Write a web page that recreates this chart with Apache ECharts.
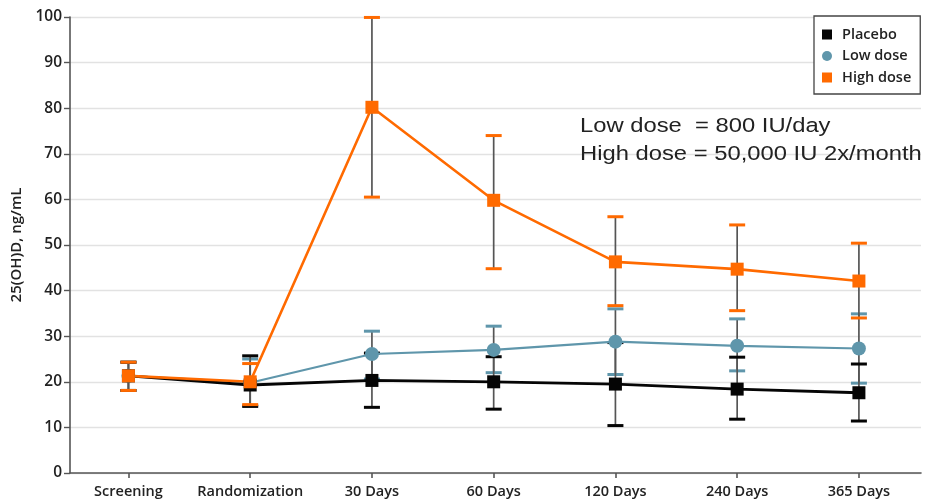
<!DOCTYPE html>
<html>
<head>
<meta charset="utf-8">
<script src="https://cdn.jsdelivr.net/npm/echarts@6/dist/echarts.min.js"></script>
<style>
  html, body { margin: 0; padding: 0; background: #fff; }
  #chart { width: 927px; height: 504px; }
</style>
</head>
<body>
<div id="chart"></div>
<script>
// Visit labels along the x axis
const categories = ['Screening', 'Randomization', '30 Days', '60 Days', '120 Days', '240 Days', '365 Days'];
const yTicks = [0, 10, 20, 30, 40, 50, 60, 70, 80, 90, 100];

// Placebo: mean and interval bounds (ng/mL)
const placeboMean = [21.3, 19.3, 20.3, 20.0, 19.5, 18.4, 17.6];
const placeboLow  = [18.1, 14.6, 14.4, 14.0, 10.4, 11.8, 11.4];
const placeboHigh = [24.3, 25.7, 26.3, 25.5, 28.6, 25.4, 23.9];

// Low dose (800 IU/day)
const lowMean = [21.3, 19.8, 26.1, 27.0, 28.8, 27.9, 27.3];
const lowLow  = [18.1, 14.8, 20.6, 22.0, 21.6, 22.4, 19.7];
const lowHigh = [24.3, 25.0, 31.1, 32.2, 36.0, 33.8, 34.9];

// High dose (50,000 IU twice a month)
const highMean = [21.3, 20.0, 80.2, 59.8, 46.3, 44.7, 42.1];
const highLow  = [18.1, 15.0, 60.5, 44.8, 36.7, 35.6, 34.0];
const highHigh = [24.3, 24.0, 99.9, 74.0, 56.2, 54.4, 50.4];

const COLORS = { placebo: '#050505', low: '#5f96ab', high: '#ff6a00' };
const FONT = '"Open Sans", "Noto Sans", sans-serif';
const positions = categories.map((_, i) => i);

function lineSeries(name, mean, color, symbol, width) {
  return {
    name: name,
    type: 'line',
    data: mean.map((v, i) => [i, v]),
    symbol: symbol,
    symbolSize: symbol === 'circle' ? 14 : 13,
    showSymbol: true,
    lineStyle: { color: color, width: width },
    itemStyle: { color: color, opacity: 1 },
    emphasis: { disabled: true },
    z: 3
  };
}

function errorSeries(name, low, high, color) {
  return {
    name: name,
    type: 'custom',
    data: low.map((v, i) => [i, v, high[i]]),
    encode: { x: 0, y: [1, 2] },
    silent: true,
    z: 2,
    renderItem: function (params, api) {
      const x = api.value(0);
      const p0 = api.coord([x, api.value(1)]);
      const p1 = api.coord([x, api.value(2)]);
      const hw = 8;
      return {
        type: 'group',
        children: [
          { type: 'line', shape: { x1: p0[0], y1: p0[1], x2: p1[0], y2: p1[1] },
            style: { stroke: '#555', lineWidth: 1.7 } },
          { type: 'line', shape: { x1: p0[0] - hw, y1: p0[1], x2: p0[0] + hw, y2: p0[1] },
            style: { stroke: color, lineWidth: 3 } },
          { type: 'line', shape: { x1: p1[0] - hw, y1: p1[1], x2: p1[0] + hw, y2: p1[1] },
            style: { stroke: color, lineWidth: 3 } }
        ]
      };
    }
  };
}

const chart = echarts.init(document.getElementById('chart'), null, { renderer: 'canvas' });

chart.setOption({
  animation: false,
  backgroundColor: '#fff',
  grid: { left: 70, right: 6, top: 17, bottom: 31, containLabel: false },
  xAxis: {
    type: 'value',
    min: -0.48,
    max: 6.51,
    axisLine: { show: true, onZero: false, lineStyle: { color: '#555', width: 1.6 } },
    axisTick: { show: true, customValues: positions, length: 5, lineStyle: { color: '#555', width: 1.6 } },
    axisLabel: {
      customValues: positions,
      formatter: function (v) { return categories[Math.round(v)]; },
      fontFamily: FONT, fontSize: 14.5, fontWeight: 600, color: '#222', margin: 11
    },
    splitLine: { show: false }
  },
  yAxis: {
    type: 'value',
    min: yTicks[0],
    max: yTicks[yTicks.length - 1],
    interval: 10,
    name: '25(OH)D, ng/mL',
    nameLocation: 'middle',
    nameGap: 45,
    nameTextStyle: { fontFamily: FONT, fontSize: 15, fontWeight: 600, color: '#222' },
    axisLine: { show: true, onZero: false, lineStyle: { color: '#555', width: 1.6 } },
    axisTick: { show: true, length: 6, lineStyle: { color: '#555', width: 1.4 } },
    axisLabel: { fontFamily: FONT, fontSize: 15.5, fontWeight: 600, color: '#222', margin: 8 },
    splitLine: { show: true, lineStyle: { color: '#e2e2e2', width: 1.3 } }
  },
  legend: {
    left: 814,
    top: 16,
    orient: 'vertical',
    backgroundColor: '#fff',
    borderColor: '#444',
    borderWidth: 1.3,
    padding: [11, 9, 9, 8],
    itemWidth: 10,
    itemHeight: 10,
    itemGap: 6.5,
    selectedMode: false,
    textStyle: { fontFamily: FONT, fontSize: 14.5, fontWeight: 600, color: '#222', padding: [0, 0, 0, 5] },
    data: [
      { name: 'Placebo', icon: 'rect', itemStyle: { color: COLORS.placebo } },
      { name: 'Low dose', icon: 'circle', itemStyle: { color: COLORS.low } },
      { name: 'High dose', icon: 'rect', itemStyle: { color: COLORS.high } }
    ]
  },
  graphic: [
    {
      type: 'text',
      x: 580,
      y: 112,
      scaleX: 1.16,
      style: {
        text: 'Low dose  = 800 IU/day\nHigh dose = 50,000 IU 2x/month',
        font: '20.5px "Liberation Sans", Arial, sans-serif',
        fill: '#222',
        lineHeight: 28
      },
      z: 10
    }
  ],
  series: [
    errorSeries('Low dose range', lowLow, lowHigh, COLORS.low),
    errorSeries('Placebo range', placeboLow, placeboHigh, COLORS.placebo),
    errorSeries('High dose range', highLow, highHigh, COLORS.high),
    lineSeries('Low dose', lowMean, COLORS.low, 'circle', 2.2),
    lineSeries('Placebo', placeboMean, COLORS.placebo, 'rect', 2.8),
    lineSeries('High dose', highMean, COLORS.high, 'rect', 2.6)
  ]
});
</script>
</body>
</html>
